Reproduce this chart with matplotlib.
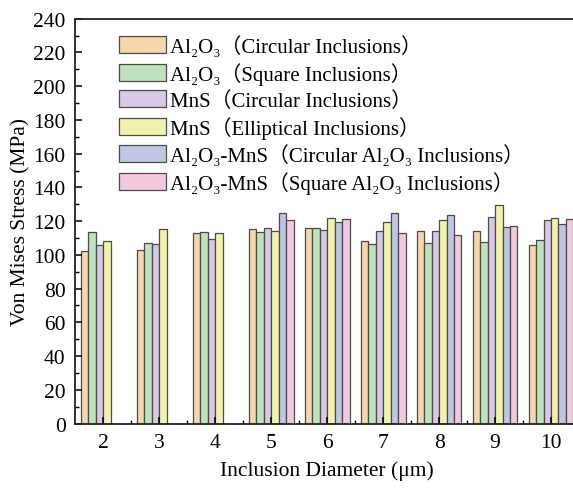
import matplotlib
matplotlib.use("Agg")
import matplotlib.pyplot as plt
import numpy as np

diameters = [2, 3, 4, 5, 6, 7, 8, 9, 10]
series_labels = [
    "Al₂O₃（Circular Inclusions）",
    "Al₂O₃（Square Inclusions）",
    "MnS（Circular Inclusions）",
    "MnS（Elliptical Inclusions）",
    "Al₂O₃-MnS（Circular Al₂O₃ Inclusions）",
    "Al₂O₃-MnS（Square Al₂O₃ Inclusions）",
]
al2o3_circular = [102.1, 102.8, 112.7, 115.5, 115.9, 108.0, 113.9, 113.9, 106.0]
al2o3_square = [113.3, 107.0, 113.7, 113.3, 115.9, 106.2, 106.8, 107.8, 108.8]
mns_circular = [105.8, 106.2, 109.2, 115.9, 114.7, 113.9, 114.3, 122.4, 120.6]
mns_elliptical = [108.0, 115.5, 112.9, 114.1, 121.6, 119.6, 120.8, 129.7, 122.0]
al2o3_mns_circular = [np.nan, np.nan, np.nan, 124.8, 119.2, 125.0, 123.6, 116.7, 118.3]
al2o3_mns_square = [np.nan, np.nan, np.nan, 120.8, 121.2, 113.1, 111.9, 117.3, 121.2]

series = [al2o3_circular, al2o3_square, mns_circular, mns_elliptical,
          al2o3_mns_circular, al2o3_mns_square]
colors = ["#F7D6AA", "#BEE1BE", "#D8C8E4", "#F1F1AA", "#BEC6E4", "#F2C8DE"]

plt.rcParams['font.family'] = ['Liberation Serif', 'DejaVu Serif', 'Noto Sans CJK SC']

fig = plt.figure(figsize=(5.73, 4.89), dpi=100)
ax = fig.add_axes([0.1314, 0.1319, 1.0105 - 0.1314, 0.9597 - 0.1319])

n = len(series)
w = 0.8 / n
x = np.array(diameters, dtype=float)
for i, (vals, c, lab) in enumerate(zip(series, colors, series_labels)):
    ax.bar(x + (i - (n - 1) / 2) * w, vals, width=w, color=c,
           edgecolor="#4a4a4a", linewidth=0.9, label=lab)

ax.set_xlim(1.5, 10.5)
ax.set_ylim(0, 240)
ax.set_xticks(diameters)
ax.set_xticks(np.arange(2.5, 10.5, 1.0), minor=True)
ax.set_yticks(np.arange(0, 241, 20))
ax.set_yticks(np.arange(0, 241, 10), minor=True)
ax.tick_params(axis='both', which='both', direction='in', labelsize=15.5)
ax.tick_params(axis='both', which='major', length=5, width=1.1, pad=7)
ax.tick_params(axis='both', which='minor', length=3, width=1.0)
for s in ax.spines.values():
    s.set_linewidth(1.3)
    s.set_color("#222222")

ax.set_ylabel("Von Mises Stress (MPa)", fontsize=15.5, labelpad=2)
ax.set_xlabel("Inclusion Diameter (μm)", fontsize=15.5, labelpad=6)

leg = ax.legend(loc='upper left', bbox_to_anchor=(0.062, 0.99), frameon=False,
                fontsize=15, handlelength=2.26, handleheight=0.87,
                labelspacing=0.25, handletextpad=0.2, borderaxespad=0.2)

fig.savefig("out.png", dpi=100)
